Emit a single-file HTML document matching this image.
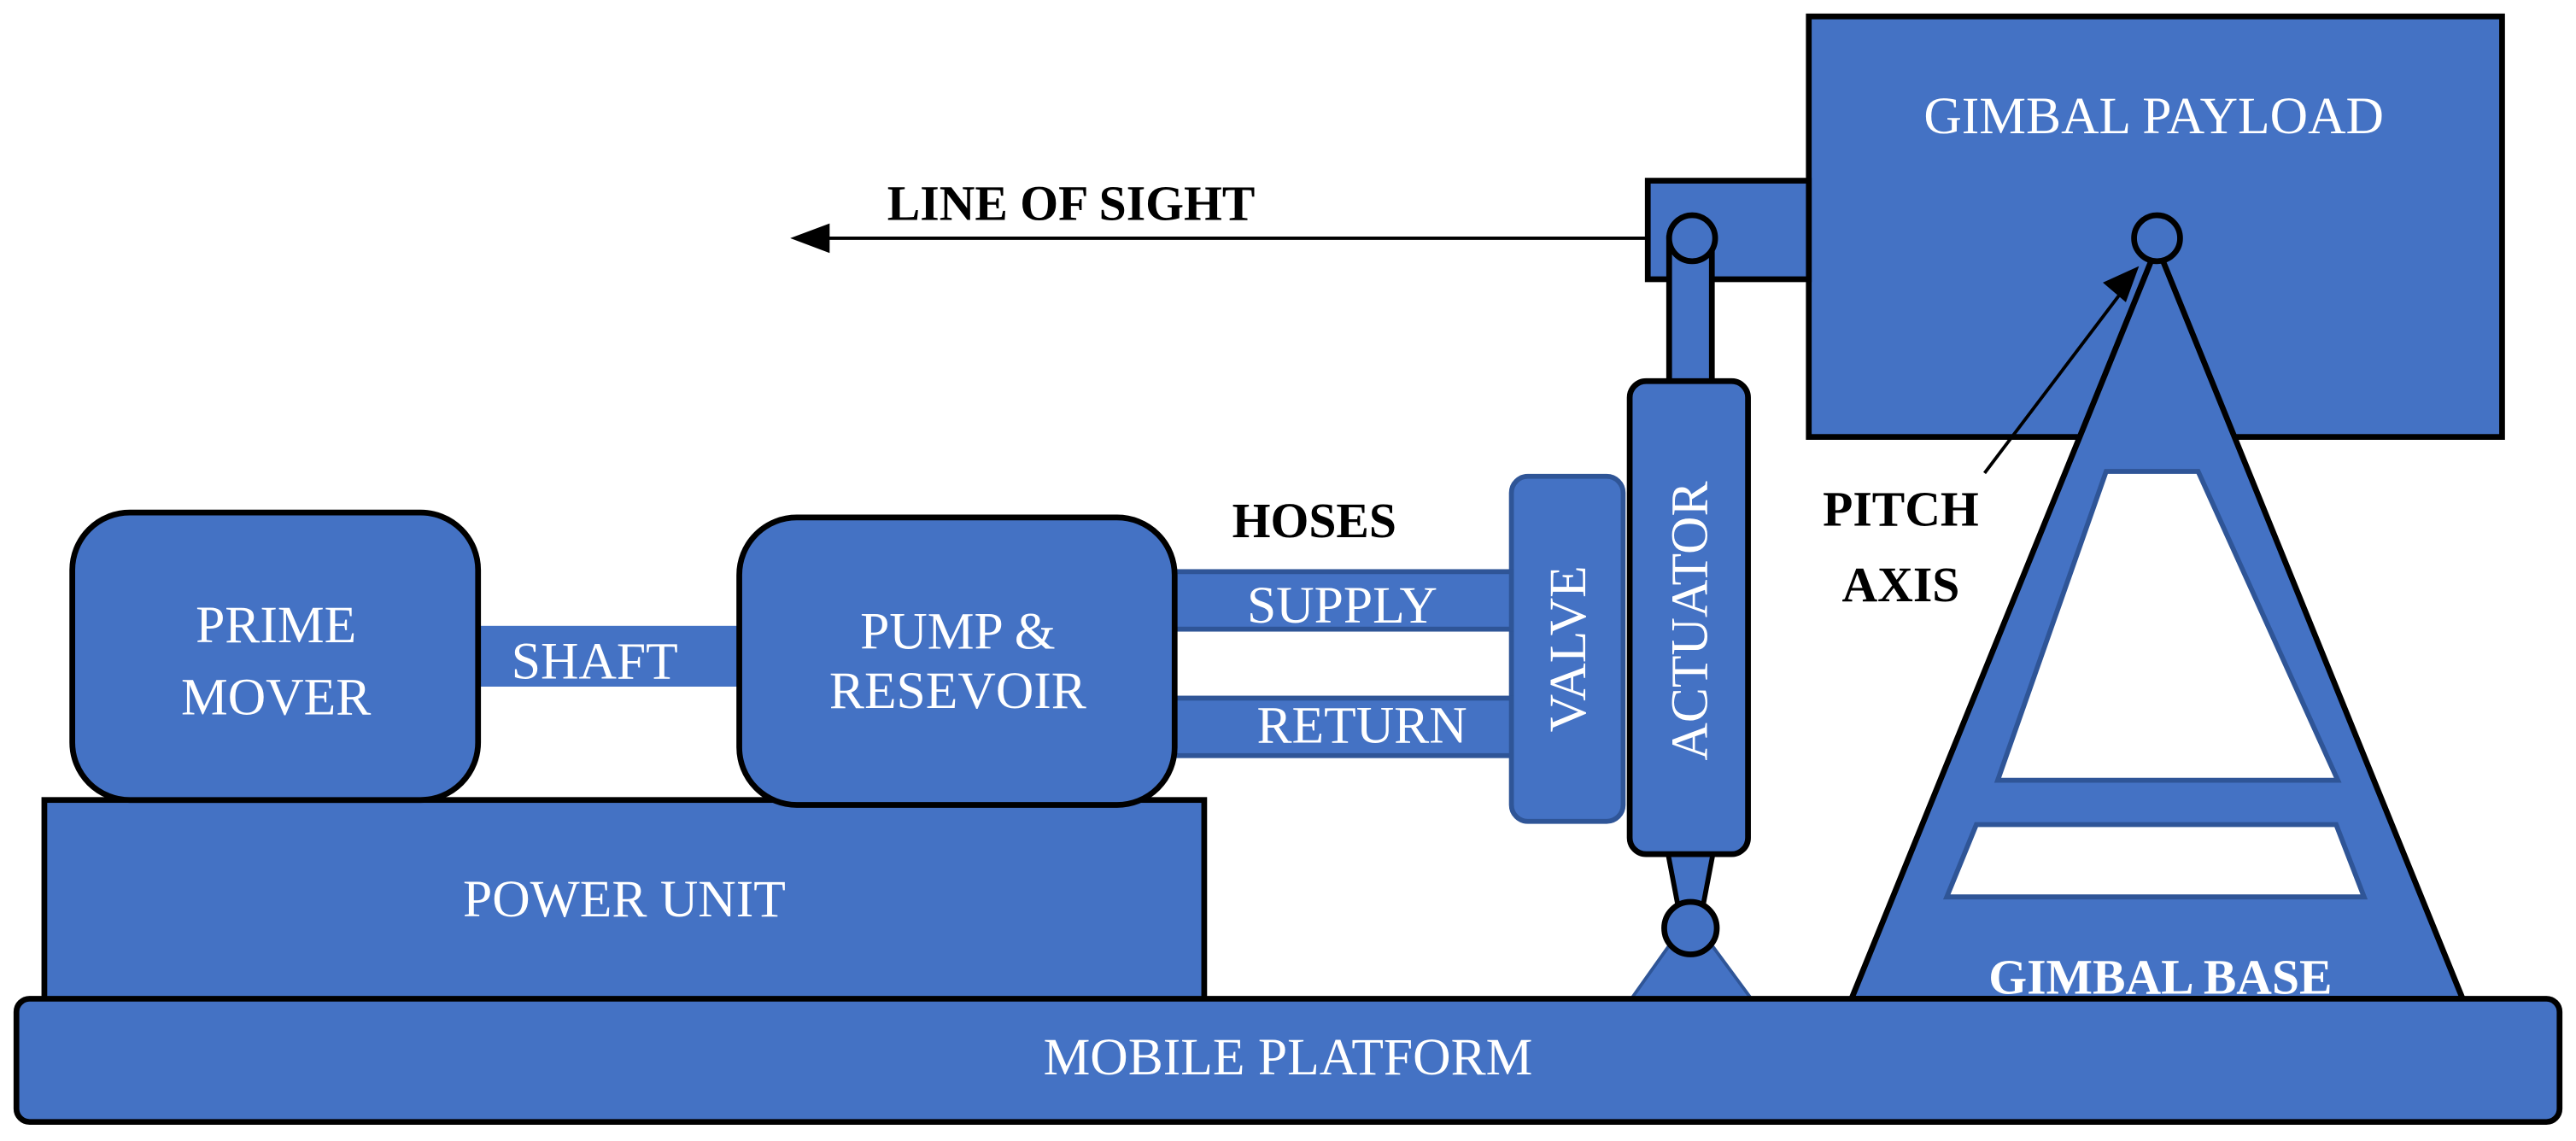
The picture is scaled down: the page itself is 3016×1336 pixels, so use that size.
<!DOCTYPE html>
<html><head><style>html,body{margin:0;padding:0;background:#fff}svg{display:block}</style></head>
<body>
<svg width="3016" height="1336" viewBox="0 0 1568 694.6" preserveAspectRatio="none" xmlns="http://www.w3.org/2000/svg" font-family="Liberation Serif, serif">
<g fill="#4472C4">
<rect x="1101" y="10" width="422" height="256" stroke="#000" stroke-width="3.5"/>
<polygon points="1313,150 1127,608 1499,608" stroke="#000" stroke-width="3.5"/>
<polygon points="1282,287 1338,287 1423,475 1216,475" fill="#fff" stroke="#2F5597" stroke-width="3"/>
<polygon points="1203,502 1422,502 1439,546 1185,546" fill="#fff" stroke="#2F5597" stroke-width="3"/>
<rect x="1003" y="110" width="98" height="60" stroke="#000" stroke-width="3.5"/>
<rect x="1016" y="145" width="26" height="90" stroke="#000" stroke-width="3.5"/>
<circle cx="1030" cy="145" r="14" stroke="#000" stroke-width="3.5"/>
<circle cx="1313" cy="145" r="14" stroke="#000" stroke-width="3.5"/>
<polygon points="1020,570 1038,570 1066,608 993,608" stroke="#2F5597" stroke-width="2"/>
<polygon points="1015,518 1043,518 1035,560 1023,560" stroke="#000" stroke-width="3"/>
<circle cx="1029" cy="565" r="16" stroke="#000" stroke-width="3.5"/>
<rect x="992" y="232" width="72" height="288" rx="10" stroke="#000" stroke-width="3.5"/>
<rect x="920" y="290" width="68" height="210" rx="10" stroke="#2F5597" stroke-width="3"/>
<rect x="715" y="348" width="205" height="35" stroke="#2F5597" stroke-width="3"/>
<rect x="715" y="425" width="205" height="35" stroke="#2F5597" stroke-width="3"/>
<rect x="290" y="381" width="162" height="37"/>
<rect x="27" y="487" width="706" height="123" stroke="#000" stroke-width="3.5"/>
<rect x="44" y="312" width="247" height="175" rx="35" stroke="#000" stroke-width="3.5"/>
<rect x="450" y="315" width="265" height="175" rx="35" stroke="#000" stroke-width="3.5"/>
<rect x="10" y="608" width="1548" height="75" rx="8" stroke="#000" stroke-width="3.5"/>
</g>
<line x1="1003" y1="145" x2="500" y2="145" stroke="#000" stroke-width="2"/>
<polygon points="481,145 505,136 505,154" fill="#000"/>
<line x1="1208" y1="288" x2="1292" y2="177" stroke="#000" stroke-width="2"/>
<polygon points="1302,162 1280,172 1294,184" fill="#000"/>
<g fill="#fff" font-size="32" text-anchor="middle">
<text x="1311" y="81">GIMBAL PAYLOAD</text>
<text x="168" y="391">PRIME</text>
<text x="168" y="435">MOVER</text>
<text x="362" y="413">SHAFT</text>
<text x="583" y="395">PUMP &amp;</text>
<text x="583" y="431">RESEVOIR</text>
<text x="817" y="379">SUPPLY</text>
<text x="829" y="452">RETURN</text>
<text x="380" y="558">POWER UNIT</text>
<text x="784" y="654">MOBILE PLATFORM</text>
<text x="0" y="0" transform="translate(965,395) rotate(-90)">VALVE</text>
<text x="0" y="0" transform="translate(1039,378) rotate(-90)">ACTUATOR</text>
<text x="1315" y="605" font-weight="bold" font-size="30">GIMBAL BASE</text>
</g>
<g fill="#000" font-size="30" font-weight="bold" text-anchor="middle">
<text x="652" y="134">LINE OF SIGHT</text>
<text x="800" y="327">HOSES</text>
<text x="1157" y="320">PITCH</text>
<text x="1157" y="366">AXIS</text>
</g>
</svg>
</body></html>
